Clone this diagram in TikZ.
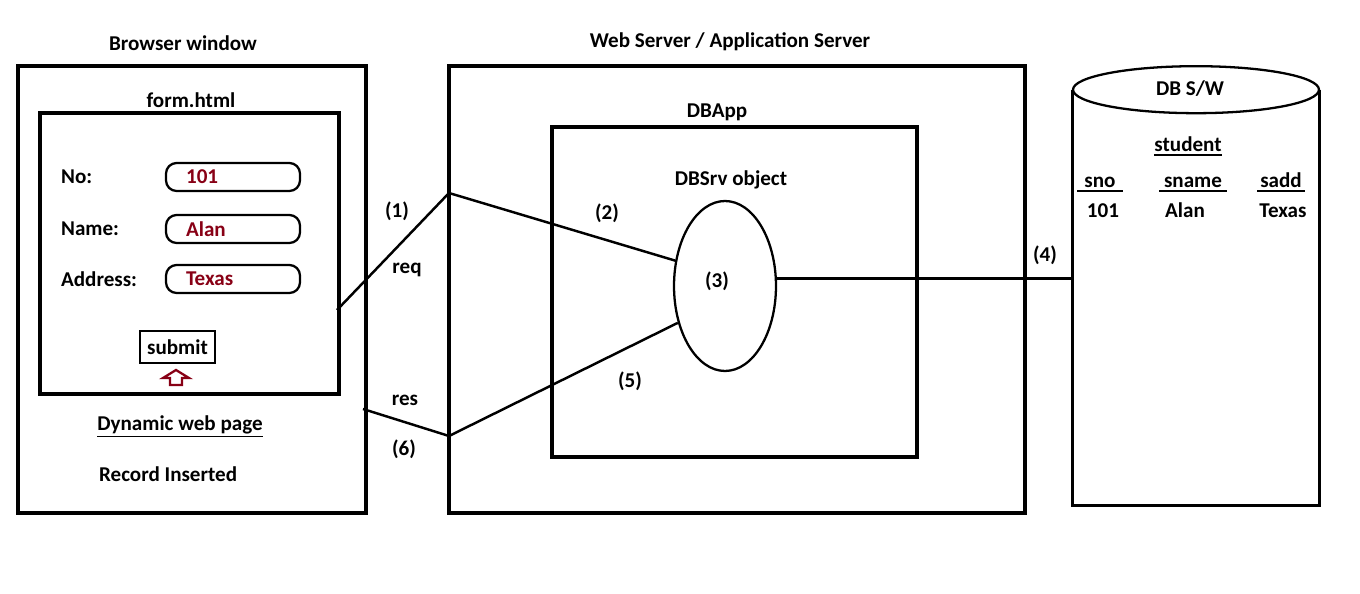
\documentclass[tikz,border=0pt]{standalone}
\usepackage{fontspec}
\setmainfont{Carlito}
\usetikzlibrary{shapes.geometric}
\definecolor{fieldred}{RGB}{136,0,21}

\begin{document}
\begin{tikzpicture}[x=0.02cm, y=-0.02cm,
 font=\fontsize{12}{14}\selectfont\bfseries,
 box/.style={draw, line width=1.8pt, inner sep=0pt},
 field/.style={draw, rounded corners=6pt, line width=1.3pt, minimum width=2.68cm, minimum height=0.56cm},
 lbl/.style={inner sep=1pt},
 ul/.style={inner sep=0pt, text depth=0.15em, anchor=base},
 conn/.style={line width=1.4pt}]

  \useasboundingbox (0,0) rectangle (1360,594);

  % browser side
  \node[box, minimum width=6.96cm, minimum height=8.94cm] (browser) at (192,289.5) {};
  \node[lbl] (browsertitle) at (183,43) {Browser window};
  \node[box, minimum width=5.98cm, minimum height=5.62cm] (form) at (189.5,253.5) {};
  \node[lbl] (formtitle) at (191,100) {form.html};

  \foreach \n/\t/\v/\y in {no/No:/101/177, name/Name:/Alan/229, addr/Address:/Texas/279} {
    \node[lbl, anchor=west] (\n lbl) at (59,\y) {\t};
    \node[field] (\n) at (233,\y) {};
    \node[lbl, anchor=west, text=fieldred] (\n val) at (184,\y) {\v};
  }

  \node[box, line width=1.6pt, minimum width=1.5cm, minimum height=0.64cm] (submit) at (177.5,347) {submit};
  \draw[fieldred, line width=1.3pt] (170,385) -- (170,378) -- (163,378) -- (176,370)
    -- (189,378) -- (182,378) -- (182,385) -- cycle;

  \node[ul, text depth=0.3em] (dyn) at (180,431) {Dynamic web page};
  \draw[line width=0.9pt] (dyn.south west) -- (dyn.south east);
  \node[lbl, anchor=west] (rec) at (97,474) {Record Inserted};

  % server side
  \node[box, minimum width=11.52cm, minimum height=8.94cm] (server) at (737,289.5) {};
  \node[lbl] (servertitle) at (730,42) {Web Server / Application Server};
  \node[box, minimum width=7.3cm, minimum height=6.6cm] (dbapp) at (734.5,292) {};
  \node[lbl] (dbapptitle) at (717,112) {DBApp};
  \node[lbl] (dbsrvtitle) at (731,180) {DBSrv object};
  \node[draw, ellipse, line width=1.3pt, minimum width=2.04cm, minimum height=3.4cm] (dbsrv) at (725,286) {};
  \node[lbl] (n3) at (717,281) {(3)};

  % database
  \node[minimum width=4.92cm, minimum height=8.3cm] (db) at (1196,297.5) {};
  \draw[line width=1.8pt] (db.north west) -- (db.south west) -- (db.south east) -- (db.north east);
  \draw[line width=1.3pt, fill=white] (db.north) ellipse [x radius=123, y radius=23.5];
  \node[lbl] (dbtitle) at (1190,89) {DB S/W};
  \node[ul] (student) at (1188,152) {student};
  \draw[line width=0.9pt] (student.south west) -- (student.south east);
  \foreach \n/\t/\x/\s in {sno/sno/1100/4pt, sname/sname/1193/2.5pt, sadd/sadd/1281/1.5pt} {
    \node[ul, inner xsep=\s] (\n) at (\x,188) {\t};
    \draw[line width=0.9pt] (\n.south west) -- (\n.south east);
  }
  \foreach \n/\t/\x in {vno/101/1103, vname/Alan/1185, vadd/Texas/1283}
    \node[lbl, anchor=base] (\n) at (\x,218) {\t};

  % connectors
  \coordinate (reqout) at (337,310);
  \coordinate (reqin) at (449,193);
  \coordinate (resout) at (449,436);
  \coordinate (resin) at (363,409);
  \draw[conn] (reqout) -- (reqin) -- (dbsrv.153);
  \draw[conn] (dbsrv.218) -- (resout) -- (resin);
  \draw[conn] (dbsrv.8) -- (dbsrv.8 -| db.west);

  \foreach \i/\x/\y in {1/397/211, 2/607/213, 4/1045/255, 5/630/381, 6/404/449}
    \node[lbl] (n\i) at (\x,\y) {(\i)};
  \node[lbl] (req) at (407,270) {req};
  \node[lbl] (res) at (405,400) {res};
\end{tikzpicture}
\end{document}
